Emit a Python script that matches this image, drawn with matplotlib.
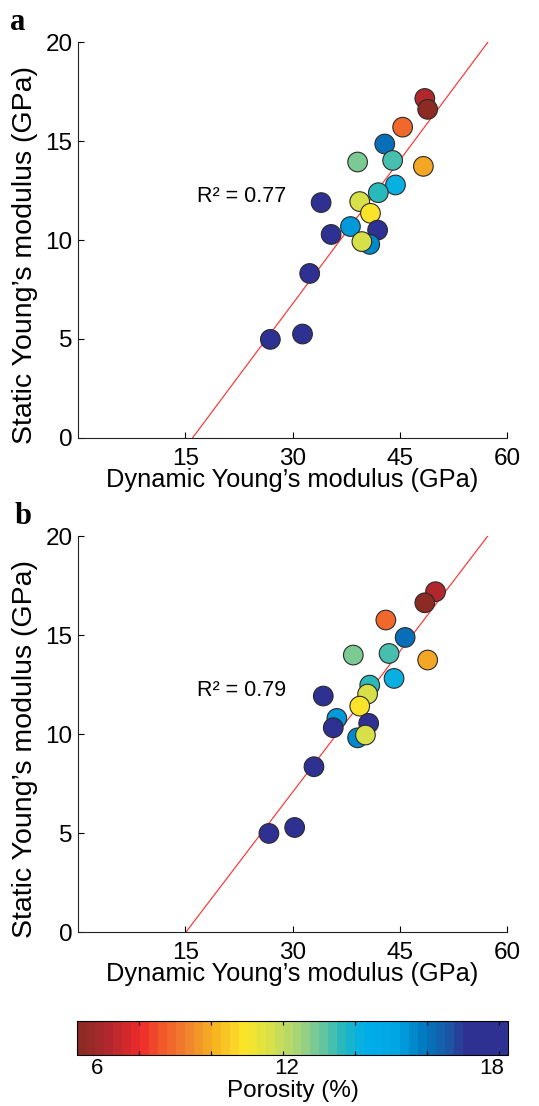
import numpy as np
import matplotlib
matplotlib.use('Agg')
import matplotlib.pyplot as plt
from matplotlib.colors import LinearSegmentedColormap, Normalize
from matplotlib.cm import ScalarMappable

# porosity (%) of each sample, same samples in both panels
porosity = [7.2, 6.3, 8.8, 16.1, 12.8, 13.3, 9.9, 14.1, 13.6, 18.0,
            11.6, 11.0, 15.5, 17.8, 18.0, 15.6, 11.7, 18.0, 18.0, 18.0]

# panel a
dyn_a = [48.5, 48.9, 45.4, 42.9, 39.1, 44.0, 48.3, 44.4, 42.0, 34.0,
         39.4, 40.9, 38.1, 41.9, 35.4, 40.8, 39.7, 32.4, 26.9, 31.4]
sta_a = [17.15, 16.6, 15.7, 14.85, 13.94, 14.02, 13.72, 12.78, 12.39, 11.89,
         11.94, 11.35, 10.68, 10.5, 10.28, 9.78, 9.92, 8.31, 4.98, 5.25]
fit_a = (0.484, -7.75)
r2_a = 0.77

# panel b
dyn_b = [50.0, 48.5, 43.05, 45.75, 38.5, 43.5, 48.9, 44.2, 40.8, 34.3,
         40.5, 39.4, 36.2, 40.65, 35.7, 39.1, 40.2, 33.0, 26.7, 30.3]
sta_b = [17.19, 16.63, 15.76, 14.88, 13.99, 14.07, 13.74, 12.81, 12.47, 11.92,
         12.02, 11.41, 10.79, 10.54, 10.32, 9.81, 9.95, 8.35, 4.98, 5.28]
fit_b = (0.474, -7.16)
r2_b = 0.79

x_ticks = [15, 30, 45, 60]
y_ticks = [0, 5, 10, 15, 20]

# colour scale
pmin, pmax = 6.29, 18.26
stops = [(6.29, '#8B2B23'), (7.07, '#B1282D'), (7.96, '#EE2A2B'), (8.6, '#F15A2B'),
         (9.4, '#F08A2E'), (10.1, '#F6B520'), (10.95, '#FCE72A'), (11.65, '#D6E04A'),
         (12.5, '#A3D37C'), (13.2, '#5FC3A3'), (13.75, '#22B8BF'), (14.3, '#00AEEA'),
         (15.25, '#00A6E3'), (16.0, '#0079C0'), (16.65, '#1B5AA8'), (17.2, '#2E3192'),
         (18.26, '#2E3192')]
cmap = LinearSegmentedColormap.from_list(
    'poro', [((v - pmin) / (pmax - pmin), c) for v, c in stops], N=48)
norm = Normalize(pmin, pmax)

plt.rcParams['font.family'] = ['Liberation Sans', 'DejaVu Sans']

fig = plt.figure(figsize=(5.39, 11.06), dpi=100)
ax_a = fig.add_axes([0.1447, 0.6040, 0.796, 0.358])
ax_b = fig.add_axes([0.1447, 0.1573, 0.796, 0.358])


def draw_panel(ax, dyn, sta, fit, r2, letter, lx, ly):
    m, b = fit
    x0, x1 = -b / m, (20 - b) / m
    ax.plot([x0, x1], [0, 20], color='#FF2828', lw=0.8, zorder=1)
    ax.scatter(dyn, sta, c=porosity, cmap=cmap, norm=norm, s=200,
               edgecolors='#2a2a2a', linewidths=0.8, zorder=2)
    ax.text(16.7, 12.2, f'R² = {r2:.2f}', fontsize=15.5, va='center', ha='left')
    ax.set_xlim(0, 60)
    ax.set_ylim(0, 20)
    ax.set_xticks(x_ticks)
    ax.set_yticks(y_ticks)
    for s in ['top', 'right']:
        ax.spines[s].set_visible(False)
    for s in ['left', 'bottom']:
        ax.spines[s].set_linewidth(0.8)
        ax.spines[s].set_color('#222222')
    ax.tick_params(direction='in', length=4, width=0.8, labelsize=17.5)
    ax.tick_params(axis='x', pad=7)
    ax.tick_params(axis='y', pad=4)
    ax.set_xlabel('Dynamic Young’s modulus (GPa)', fontsize=18.3, labelpad=-1)
    ax.set_ylabel('Static Young’s modulus (GPa)', fontsize=20.5)
    ax.yaxis.set_label_coords(-0.093, 0.463)
    ax.text(lx, ly, letter, transform=ax.transAxes, fontsize=22,
            fontweight='bold', family='Liberation Serif', va='center', ha='left')


draw_panel(ax_a, dyn_a, sta_a, fit_a, r2_a, 'a', -0.158, 1.05)
draw_panel(ax_b, dyn_b, sta_b, fit_b, r2_b, 'b', -0.147, 1.05)

# colour bar
cax = fig.add_axes([0.1429, 0.0461, 0.7996, 0.0307])
cb = fig.colorbar(ScalarMappable(norm=norm, cmap=cmap), cax=cax, orientation='horizontal')
cb.outline.set_linewidth(0.8)
cb.ax.set_xticks([6.85, 12.1, 17.8])
cb.ax.set_xticklabels(['6', '12', '18'])
cb.ax.set_xticks([8, 10, 12, 14, 16, 18], minor=True)
cb.ax.tick_params(which='major', length=0, labelsize=16, pad=2)
cb.ax.tick_params(which='minor', direction='in', length=3, width=0.8, top=True, bottom=True)
cb.set_label('Porosity (%)', fontsize=17.5, labelpad=1)

fig.savefig('out.png', dpi=100)
